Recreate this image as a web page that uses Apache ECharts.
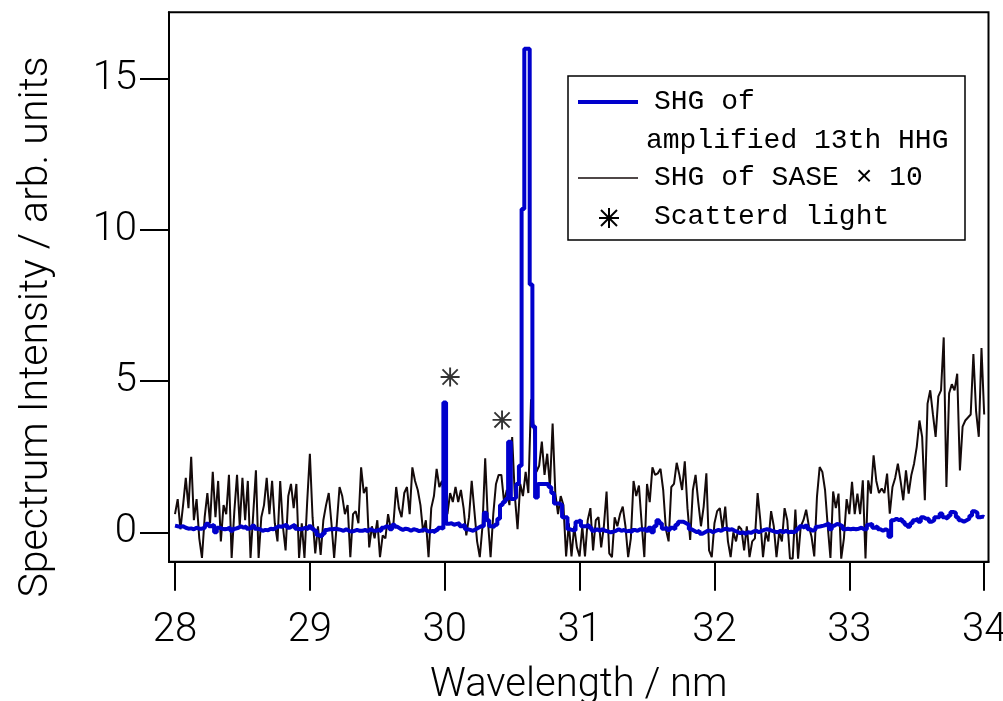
<!DOCTYPE html>
<html>
<head>
<meta charset="utf-8">
<script src="https://cdn.jsdelivr.net/npm/echarts@6/dist/echarts.min.js"></script>
<style>
html,body{margin:0;padding:0;background:#fff;}
#chart{width:1003px;height:701px;}
</style>
</head>
<body>
<div id="chart"></div>
<script>
// Sampling grid of both spectra (nm)
const lambdaStart = 28.0;
const lambdaStep = 0.02;

// SHG of SASE x 10 (black), 28.00 ... 34.00 nm
const saseValues = [
  0.6, 1.1, 0.1, 0.9, 1.8, 0.8, 2.5, 0.4, 1.1, -0.2,
  -0.85, 0.5, 1.3, 0.3, 2.0, 0.5, 1.7, -0.3, 0.9, 0.6,
  1.9, -0.85, 0.7, 1.9, 0.2, 1.8, 0.4, 1.7, -0.85, 0.6,
  2.05, -0.85, 0.5, 0.9, 1.8, 0.6, 1.7, 0.3, -0.3, 1.7,
  0.2, -0.6, 1.2, 1.6, 0.8, 1.6, -0.85, 0.3, -0.85, 1.0,
  2.6, 0.5, -0.7, 0.2, -0.75, 0.4, 0.9, 1.3, 0.3, -0.85,
  0.3, 1.5, 1.2, 0.6, 0.9, -0.82, 0.6, 0.7, 0.3, 2.15,
  1.3, 1.5, -0.5, 0.2, -0.2, 0.4, -0.82, -0.1, -0.2, 0.6,
  0.1, 0.3, 1.5, 0.8, 0.5, 1.3, 1.5, 0.6, 2.15, 1.7,
  1.4, 0.9, 0.0, 0.4, -0.82, 0.8, 1.2, 2.1, 1.5, 1.7,
  1.0, 0.6, 1.3, 1.0, 1.5, 1.0, 1.4, 0.8, -0.1, 0.5,
  1.7, 0.7, -0.3, -0.82, 0.2, 2.45, 0.4, -0.82, 0.6, 1.6,
  1.9, 1.9, 1.0, 1.4, 0.9, 3.15, 1.2, 0.1, 1.6, 1.2,
  2.0, 1.3, 4.4, 3.5, 2.0, 2.2, 3.0, 1.9, 2.6, 1.5,
  3.6, 1.3, 0.6, 1.2, 0.9, -0.8, 0.3, -0.8, 0.2, -0.5,
  -0.8, 0.2, -0.8, 0.4, 0.8, -0.6, 0.4, 0.5, -0.5, 0.2,
  1.35, -0.7, -0.82, 0.5, 0.2, 0.6, 0.85, 0.2, -0.82, -0.2,
  1.7, 1.2, 1.55, 0.3, -0.82, 1.6, 1.0, 2.15, 1.9, 1.95,
  2.1, 1.4, 0.1, -0.3, 1.5, 1.6, 2.3, 1.9, 1.4, 2.35,
  0.8, -0.25, 1.4, 1.9, 1.0, 0.2, 0.85, 1.95, -0.6, -0.82,
  0.3, 0.7, 0.8, 0.1, 0.85, -0.3, -0.82, 0.0, -0.3, 0.2,
  0.1, -0.6, 0.2, -0.82, -0.3, -0.2, 1.3, 0.4, -0.82, 0.0,
  -0.3, 0.7, 0.2, -0.82, 0.0, -0.3, 0.8, 0.4, -0.87, -0.87,
  0.75, -0.87, 0.2, 0.4, 0.75, 0.2, -0.15, -0.8, 1.17, 2.16,
  2.0, 1.4, 0.2, -0.85, 1.35, 0.8, 1.28, -0.87, -0.2, 1.1,
  0.6, 1.67, 0.6, 1.28, 0.6, 1.72, -0.87, 1.72, 1.28, 2.55,
  1.7, 1.3, 1.45, 1.3, 1.94, 0.62, 1.5, 1.8, 2.27, 1.7,
  1.06, 2.05, 1.28, 1.9, 2.27, 2.83, 3.7, 3.16, 1.06, 4.26,
  4.7, 3.9, 3.16, 4.5, 4.7, 6.45, 1.5, 4.6, 4.9, 4.7,
  5.25, 2.05, 3.5, 3.7, 3.8, 3.9, 5.9, 4.0, 3.16, 6.1, 3.9
];

// SHG of amplified 13th HHG (blue), 28.00 ... 34.00 nm
const hhgValues = [
  0.22, 0.2, 0.18, 0.2, 0.15, 0.12, 0.13, 0.1, 0.15, 0.12,
  0.12, 0.15, 0.28, 0.2, 0.25, 0.0, 0.15, 0.12, 0.1, 0.12,
  0.15, 0.05, 0.12, 0.15, 0.2, 0.15, 0.2, 0.12, 0.15, 0.22,
  0.12, 0.1, 0.05, 0.08, 0.07, 0.12, 0.1, 0.15, 0.2, 0.18,
  0.22, 0.25, 0.15, 0.2, 0.25, 0.12, 0.1, 0.12, 0.15, 0.1,
  0.2, 0.12, 0.05, -0.1, -0.15, -0.05, 0.08, 0.1, 0.1, 0.12,
  0.1, 0.08, 0.05, 0.1, 0.05, 0.02, 0.05, 0.08, 0.05, 0.05,
  0.08, 0.04, 0.1, 0.06, 0.05, 0.08, 0.04, 0.15, 0.2, 0.18,
  0.1, 0.25, 0.18, 0.12, 0.08, 0.12, 0.1, 0.05, 0.1, 0.08,
  0.04, 0.06, 0.1, 0.05, 0.02, 0.05, 0.0, 0.08, 0.15, 0.12,
  4.3, 0.28, 0.3, 0.25, 0.28, 0.3, 0.2, 0.25, 0.1, 0.08,
  0.05, 0.1, 0.15, 0.2, 0.2, 0.65, 0.4, 0.2, 0.18, 0.25,
  0.45, 0.9, 1.0, 1.1, 3.0, 1.1, 1.15, 1.6, 2.2, 10.7,
  16.0, 16.0, 8.2, 3.5, 1.15, 1.6, 1.6, 1.6, 1.6, 1.5,
  1.3, 0.95, 0.95, 0.9, 0.5, 0.5, 0.1, 0.07, 0.07, 0.35,
  0.4, 0.2, 0.2, 0.25, 0.15, 0.05, 0.1, 0.05, 0.1, 0.05,
  0.03, 0.0, 0.02, 0.05, 0.1, 0.05, 0.08, 0.03, 0.05, 0.0,
  0.08, 0.05, 0.1, 0.08, 0.12, 0.05, 0.15, 0.0, 0.2, 0.4,
  0.3, 0.12, 0.15, 0.08, 0.15, 0.1, 0.25, 0.35, 0.35, 0.3,
  0.25, 0.1, 0.05, 0.0, 0.05, -0.05, 0.0, 0.05, 0.05, 0.0,
  0.05, 0.08, 0.05, 0.1, 0.12, 0.08, 0.1, 0.05, 0.02, -0.03,
  0.0, -0.05, 0.0, -0.02, 0.03, 0.05, 0.0, 0.05, 0.08, 0.1,
  0.08, 0.05, 0.02, 0.0, 0.05, 0.0, 0.05, 0.0, 0.02, 0.0,
  0.05, 0.12, 0.2, 0.15, 0.22, 0.1, 0.05, 0.1, 0.18, 0.2,
  0.22, 0.25, 0.3, 0.1, 0.22, 0.28, 0.25, 0.2, 0.1, 0.12,
  0.1, 0.12, 0.1, 0.12, 0.15, 0.1, 0.1, 0.25, 0.28, 0.15,
  0.2, 0.1, 0.05, 0.1, 0.05, -0.15, 0.4, 0.45, 0.4, 0.45,
  0.35, 0.25, 0.18, 0.3, 0.4, 0.45, 0.35, 0.5, 0.45, 0.45,
  0.35, 0.4, 0.5, 0.5, 0.62, 0.5, 0.45, 0.55, 0.67, 0.65,
  0.5, 0.4, 0.35, 0.4, 0.45, 0.55, 0.7, 0.65, 0.5, 0.52, 0.5
];

// Scattered-light markers (wavelength, height of the asterisk)
const scatterMarks = [[30.04, 5.14], [30.425, 3.72]];

const xTicks = [28, 29, 30, 31, 32, 33, 34];
const yTicks = [0, 5, 10, 15];

const seriesNames = ['SHG of\namplified 13th HHG', 'SHG of SASE \u00d7 10', 'Scatterd light'];

const toPairs = vals => vals.map((v, i) => [+(lambdaStart + i * lambdaStep).toFixed(3), v]);

const asteriskPath = 'path://M9,0L11,0L11,20L9,20Z M0,9L20,9L20,11L0,11Z M2.7,1.3L18.7,17.3L17.3,18.7L1.3,2.7Z M17.3,1.3L18.7,2.7L2.7,18.7L1.3,17.3Z';
const asteriskPolys = [
  [[9,0],[11,0],[11,20],[9,20]],
  [[0,9],[20,9],[20,11],[0,11]],
  [[2.7,1.3],[18.7,17.3],[17.3,18.7],[1.3,2.7]],
  [[17.3,1.3],[18.7,2.7],[2.7,18.7],[1.3,17.3]]
];

const axisFont = 'Roboto, "Noto Sans", sans-serif';
const legendFont = '"Liberation Mono", "DejaVu Sans Mono", monospace';
const legendTextStyle = t => ({text: t, fontFamily: legendFont, fontSize: 28, fill: '#000', verticalAlign: 'middle', align: 'left'});

const chart = echarts.init(document.getElementById('chart'), null, {renderer: 'canvas'});
chart.setOption({
  animation: false,
  backgroundColor: '#fff',
  grid: {left: 169, right: 14.5, top: 12.3, bottom: 139.3, containLabel: false, outerBoundsMode: 'none',
         show: true, borderColor: '#000', borderWidth: 2, backgroundColor: 'transparent'},
  xAxis: {
    type: 'value', min: 27.9555, max: 34.032,
    name: 'Wavelength / nm', nameLocation: 'middle', nameGap: 104,
    nameTextStyle: {fontFamily: axisFont, fontWeight: 300, fontSize: 40, color: '#000'},
    axisLine: {show: true, onZero: false, lineStyle: {color: '#000', width: 2}},
    axisTick: {show: true, inside: false, length: 29, customValues: xTicks, lineStyle: {color: '#000', width: 2}},
    axisLabel: {customValues: xTicks, margin: 49, fontFamily: axisFont, fontWeight: 300, fontSize: 40, color: '#000', hideOverlap: false},
    splitLine: {show: false}
  },
  yAxis: {
    type: 'value', min: -0.973, max: 17.21,
    name: 'Spectrum Intensity / arb. units', nameLocation: 'middle', nameGap: 112, nameRotate: 90,
    nameTextStyle: {fontFamily: axisFont, fontWeight: 300, fontSize: 41, color: '#000', padding: [0, 80, 0, 0]},
    axisLine: {show: true, onZero: false, lineStyle: {color: '#000', width: 2}},
    axisTick: {show: true, inside: false, length: 29, customValues: yTicks, lineStyle: {color: '#000', width: 2}},
    axisLabel: {customValues: yTicks, margin: 32, fontFamily: axisFont, fontWeight: 300, fontSize: 40, color: '#000'},
    splitLine: {show: false}
  },
  series: [
    {
      name: seriesNames[1], type: 'line', symbol: 'none', clip: true,
      data: toPairs(saseValues),
      lineStyle: {color: '#140a0a', width: 2}, z: 2
    },
    {
      name: seriesNames[0], type: 'line', step: 'middle', symbol: 'none', clip: true,
      data: toPairs(hhgValues),
      lineStyle: {color: '#0000cc', width: 4}, z: 3
    },
    {
      name: seriesNames[2], type: 'scatter', symbol: asteriskPath, symbolSize: 19,
      data: scatterMarks, itemStyle: {color: '#000'}, z: 4
    }
  ],
  graphic: [
    {type: 'rect', shape: {x: 568, y: 76, width: 397, height: 164}, style: {fill: '#fff', stroke: '#000', lineWidth: 1.5}, z: 10},
    {type: 'line', shape: {x1: 578, y1: 102, x2: 638, y2: 102}, style: {stroke: '#0000cc', lineWidth: 4}, z: 11},
    {type: 'text', x: 654, y: 102, style: legendTextStyle('SHG of'), z: 11},
    {type: 'text', x: 646, y: 141, style: legendTextStyle('amplified 13th HHG'), z: 11},
    {type: 'line', shape: {x1: 578, y1: 178, x2: 638, y2: 178}, style: {stroke: '#140a0a', lineWidth: 1.5}, z: 11},
    {type: 'text', x: 654, y: 178, style: legendTextStyle('SHG of SASE \u00d7 10'), z: 11},
    {type: 'group', x: 599, y: 208, z: 11, children: asteriskPolys.map(p => ({type: 'polygon', shape: {points: p}, style: {fill: '#000'}, z: 11}))},
    {type: 'text', x: 654, y: 217, style: legendTextStyle('Scatterd light'), z: 11}
  ]
});
</script>
</body>
</html>
